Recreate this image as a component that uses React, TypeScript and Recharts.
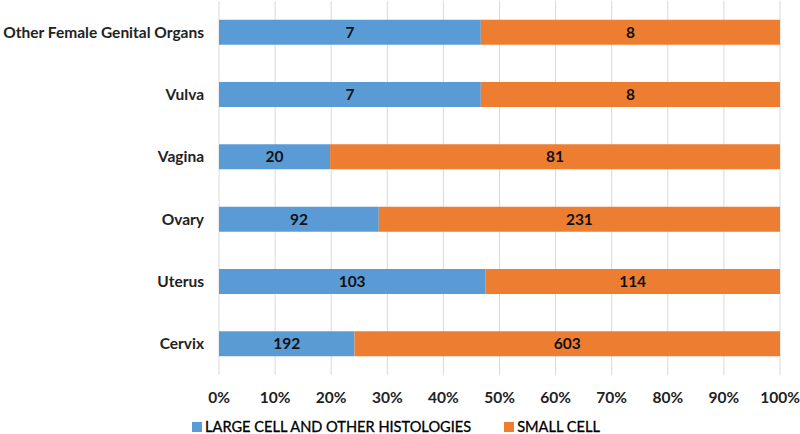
import React from "react";
import {
  BarChart,
  Bar,
  XAxis,
  YAxis,
  CartesianGrid,
  LabelList,
} from "recharts";

const categories = [
  "Other Female Genital Organs",
  "Vulva",
  "Vagina",
  "Ovary",
  "Uterus",
  "Cervix",
];
const largeCell = [7, 7, 20, 92, 103, 192];
const smallCell = [8, 8, 81, 231, 114, 603];
const xTicks = [0, 0.1, 0.2, 0.3, 0.4, 0.5, 0.6, 0.7, 0.8, 0.9, 1];

const seriesNames = ["LARGE CELL AND OTHER HISTOLOGIES", "SMALL CELL"];
const colors = ["#5B9BD5", "#ED7D31"];

const data = categories.map((name, i) => ({
  name,
  large: largeCell[i],
  small: smallCell[i],
}));

const FONT = "Lato, 'Open Sans', sans-serif";
const labelStyle = { fontFamily: FONT, fontSize: 15.5, fontWeight: 700, fill: "#111" };

export default function App() {
  return (
    <div style={{ position: "absolute", left: 0, top: 0, width: 800, height: 434, background: "#fff" }}>
      <BarChart
        width={800}
        height={434}
        data={data}
        layout="vertical"
        stackOffset="expand"
        barCategoryGap="30%"
        margin={{ top: 1, right: 20, left: 0, bottom: 29 }}
      >
        <CartesianGrid horizontal={false} stroke="#D9D9D9" />
        <XAxis
          type="number"
          domain={[0, 1]}
          ticks={xTicks}
          tickFormatter={(v: number) => `${Math.round(v * 100)}%`}
          axisLine={false}
          tickLine={false}
          tickSize={0}
          tickMargin={17}
          interval={0}
          height={30}
          tick={{ fontFamily: FONT, fontSize: 15.5, fontWeight: 700, fill: "#222" }}
        />
        <YAxis
          type="category"
          dataKey="name"
          width={219}
          axisLine={false}
          tickLine={false}
          tickSize={0}
          tickMargin={15}
          interval={0}
          tick={{ fontFamily: FONT, fontSize: 15.5, fontWeight: 700, fill: "#222" }}
        />
        <Bar dataKey="large" stackId="a" fill={colors[0]} isAnimationActive={false}>
          <LabelList dataKey="large" position="center" style={labelStyle} />
        </Bar>
        <Bar dataKey="small" stackId="a" fill={colors[1]} isAnimationActive={false}>
          <LabelList dataKey="small" position="center" style={labelStyle} />
        </Bar>
      </BarChart>
      <div
        style={{
          position: "absolute",
          left: 0,
          top: 418,
          width: 800,
          display: "flex",
          justifyContent: "center",
          alignItems: "center",
          fontFamily: FONT,
          fontSize: 14.6,
          lineHeight: "18px",
          color: "#000",
          WebkitTextStroke: "0.3px #000",
          gap: 33,
          paddingRight: 8,
          boxSizing: "border-box",
        }}
      >
        {seriesNames.map((n, i) => (
          <div key={n} style={{ display: "flex", alignItems: "center" }}>
            <span
              style={{
                display: "inline-block",
                width: 10,
                height: 10,
                background: colors[i],
                marginRight: 3,
              }}
            />
            <span>{n}</span>
          </div>
        ))}
      </div>
    </div>
  );
}
